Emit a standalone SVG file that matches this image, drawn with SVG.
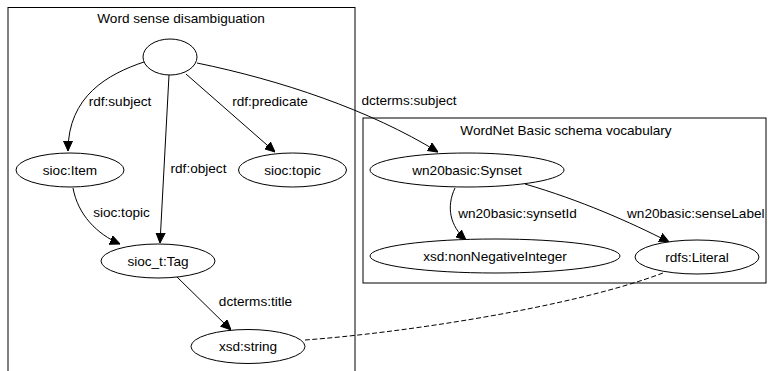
<svg xmlns="http://www.w3.org/2000/svg" width="768" height="371" viewBox="0 0 768 371">
<style>
text{font-family:"Liberation Sans",Arial,sans-serif;font-size:13.6px;fill:#000}
.c{text-anchor:middle}
.cl{fill:none;stroke:#000;stroke-width:1}
.n ellipse{fill:#fff;stroke:#000;stroke-width:1}
.e path{fill:none;stroke:#000;stroke-width:1}
</style>
<defs>
<marker id="ah" viewBox="0 0 10 10" refX="10" refY="5" markerWidth="10" markerHeight="10" markerUnits="userSpaceOnUse" orient="auto">
<path d="M0,0.5 L10,5 L0,9.5 Z" fill="#000" stroke="#000" stroke-width="1"/>
</marker>
</defs>
<rect width="768" height="371" fill="#fff"/>
<g id="cluster_wsd">
<rect class="cl" x="8" y="7.5" width="347" height="380"/>
<text class="c" x="181" y="23">Word sense disambiguation</text>
</g>
<g id="cluster_wn">
<rect class="cl" x="363" y="118" width="403" height="165"/>
<text class="c" x="566" y="135">WordNet Basic schema vocabulary</text>
</g>
<g id="edges" class="e">
<path d="M144,62 C108,74 68,96 68,151" marker-end="url(#ah)"/>
<path d="M169,75 L160,243" marker-end="url(#ah)"/>
<path d="M186,74 L275,152" marker-end="url(#ah)"/>
<path d="M197,63 C280,80 370,110 438,152" marker-end="url(#ah)"/>
<path d="M73,188 C78,215 97,234 120,244" marker-end="url(#ah)"/>
<path d="M176,276 L231,330" marker-end="url(#ah)"/>
<path d="M455,188 C446,207 450,226 466,240" marker-end="url(#ah)"/>
<path d="M525,184 C580,200 630,222 669,242" marker-end="url(#ah)"/>
<path d="M305,340 C400,333 570,308 663,273" stroke-dasharray="5,2.5" stroke-width="2"/>
<text class="c" x="120" y="106">rdf:subject</text>
<text class="c" x="270" y="106">rdf:predicate</text>
<text class="c" x="198.5" y="173">rdf:object</text>
<text class="c" x="409" y="105">dcterms:subject</text>
<text class="c" x="121.5" y="217">sioc:topic</text>
<text class="c" x="255.5" y="306">dcterms:title</text>
<text class="c" x="517.5" y="218">wn20basic:synsetId</text>
<text x="627" y="218">wn20basic:senseLabel</text>
</g>
<g id="n_blank" class="n"><ellipse cx="170" cy="57" rx="27" ry="18"/></g>
<g id="n_item" class="n"><ellipse cx="70" cy="170" rx="54" ry="17"/><text class="c" x="70" y="175">sioc:Item</text></g>
<g id="n_topic" class="n"><ellipse cx="292.5" cy="170" rx="54" ry="17"/><text class="c" x="292.5" y="175">sioc:topic</text></g>
<g id="n_tag" class="n"><ellipse cx="158" cy="261" rx="57" ry="17"/><text class="c" x="158" y="266">sioc_t:Tag</text></g>
<g id="n_string" class="n"><ellipse cx="248" cy="346.5" rx="57" ry="17"/><text class="c" x="248" y="351">xsd:string</text></g>
<g id="n_synset" class="n"><ellipse cx="467" cy="170" rx="97" ry="17"/><text class="c" x="467" y="175">wn20basic:Synset</text></g>
<g id="n_nni" class="n"><ellipse cx="495" cy="256" rx="125" ry="17"/><text class="c" x="495" y="261">xsd:nonNegativeInteger</text></g>
<g id="n_literal" class="n"><ellipse cx="697" cy="257" rx="62" ry="17"/><text class="c" x="697" y="262">rdfs:Literal</text></g>
</svg>
